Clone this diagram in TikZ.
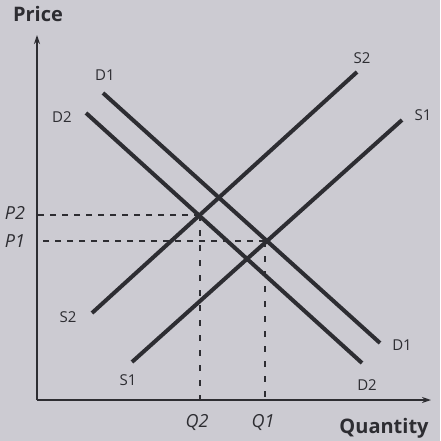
\documentclass[tikz,border=0pt]{standalone}
\usepackage{fontspec}
\setsansfont{Open Sans}
\usetikzlibrary{arrows.meta,positioning}
\definecolor{paper}{RGB}{204,203,210}
\definecolor{ink}{RGB}{45,45,50}

\begin{document}
\begin{tikzpicture}[
  x=1pt,y=-1pt,
  crv/.style={draw=ink,line width=4pt},
  ax/.style={draw=ink,line width=1.6pt,-{Stealth[length=9pt,width=6pt]}},
  guide/.style={draw=ink,line width=1.2pt,dash pattern=on 6pt off 6pt},
  lbl/.style={font=\sffamily\fontsize{15}{17}\selectfont,text=ink,inner sep=1pt},
  val/.style={font=\sffamily\itshape\fontsize{18}{20}\selectfont,text=ink,inner sep=1pt},
  ttl/.style={font=\sffamily\bfseries\fontsize{20}{22}\selectfont,text=ink,inner sep=1pt},
]
  \fill[paper] (0,0) rectangle (440,441);
  \useasboundingbox (0,0) rectangle (440,441);

  % axes
  \coordinate (O) at (37,400);
  \coordinate (ytop) at (37,35);
  \coordinate (xend) at (431,400);
  \draw[ax] (O) -- (ytop);
  \draw[ax] (O) -- (xend);
  \node[ttl] (price) at (38,14) {Price};
  \node[ttl] (qty) at (384,428) {Quantity};

  % demand and supply lines
  \coordinate (d1a) at (103,93);  \coordinate (d1b) at (380,343);
  \coordinate (d2a) at (86,113);  \coordinate (d2b) at (362,363);
  \coordinate (s1a) at (132,362); \coordinate (s1b) at (402,120);
  \coordinate (s2a) at (92,313);  \coordinate (s2b) at (357,72);
  \draw[crv] (d1a) -- (d1b);
  \draw[crv] (d2a) -- (d2b);
  \draw[crv] (s1a) -- (s1b);
  \draw[crv] (s2a) -- (s2b);

  \node[lbl] (D1top) at (105,75)  {D1};
  \node[lbl] (D1bot) at (402,345) {D1};
  \node[lbl] (D2top) at (62,117)  {D2};
  \node[lbl] (D2bot) at (367,385) {D2};
  \node[lbl] (S1top) at (423,115) {S1};
  \node[lbl] (S1bot) at (128,380) {S1};
  \node[lbl] (S2top) at (362,58)  {S2};
  \node[lbl] (S2bot) at (68,317)  {S2};

  % equilibria
  \coordinate (E2) at (200,215);
  \coordinate (E1) at (265,241);
  \draw[guide] (E2) -- (E2 -| O);
  \draw[guide] (E1) -- (E1 -| O);
  \draw[guide,dash pattern=on 6pt off 9pt] (E2) -- (E2 |- O);
  \draw[guide,dash pattern=on 6pt off 9pt] (E1) -- (E1 |- O);

  \node[val] (P2) at (15,213) {P2};
  \node[val] (P1) at (15,241) {P1};
  \node[val] (Q2) at (197,422) {Q2};
  \node[val] (Q1) at (263,422) {Q1};
\end{tikzpicture}
\end{document}
